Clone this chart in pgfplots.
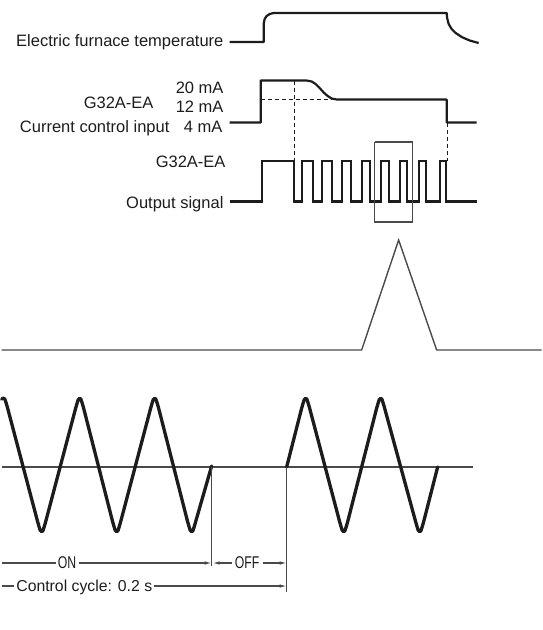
\documentclass[border=0pt]{standalone}
\usepackage{fontspec}
\setmainfont{Liberation Sans}
\usepackage{pgfplots}
\pgfplotsset{compat=1.18}
\usetikzlibrary{arrows.meta}
\definecolor{ink}{HTML}{1C1C1C}
\definecolor{gline}{HTML}{4A4A4A}
\newcommand{\lbl}{\fontsize{16.5}{19.8}\selectfont}
\newcommand{\dimfont}{\fontsize{17}{20}\selectfont}
\tikzset{lab/.style={font=\lbl, text=ink, inner sep=0pt}}
\begin{document}
\begin{tikzpicture}
\begin{axis}[
  width=540pt, height=630pt, scale only axis,
  xmin=0, xmax=540, ymin=0, ymax=630, y dir=reverse,
  hide axis, clip=false,
]
% frame of the page
\addplot[draw=none] coordinates {(0,0) (540,630)};

% electric furnace temperature
\addplot[ink, line width=2.2pt, line join=round] coordinates {
  (228,42) (262,42) (262,24) (263,19) (265,16) (268,14) (272,13)
  (445,13) (445.5,18) (447,24) (450,29) (454,33) (460,37) (468,40.5) (477,43)};

% current control input
\addplot[ink, line width=2.2pt, line join=round] coordinates {
  (228,122.5) (259,122.5) (259,80.5) (305,80.5) (310,81.5) (314,84) (318,88)
  (322,92.5) (326,96) (330,98.5) (335,99.5) (445,99.5) (445,122.5) (475,122.5)};

% dashed guides
\addplot[ink, line width=1pt, dash pattern=on 4pt off 3pt] coordinates {(259,99.5) (330,99.5)};
\addplot[ink, line width=1pt, dash pattern=on 4pt off 3pt] coordinates {(293,80.5) (293,161)};
\addplot[ink, line width=1pt, dash pattern=on 4pt off 3pt] coordinates {(446,122.5) (446,161)};

% output signal
\addplot[ink, line width=2.2pt, line join=miter] coordinates {
  (228,201.5) (260,201.5) (260,161) (292,161) (292,201.5)
  (300,201.5) (300,161) (311,161) (311,201.5)
  (320,201.5) (320,161) (330,161) (330,201.5)
  (340,201.5) (340,161) (349,161) (349,201.5)
  (360,201.5) (360,161) (368,161) (368,201.5)
  (379,201.5) (379,161) (387,161) (387,201.5)
  (398,201.5) (398,161) (405,161) (405,201.5)
  (417,201.5) (417,161) (424,161) (424,201.5)
  (438,201.5) (438,161) (444,161) (444,201.5) (475,201.5)};

% zoom box
\addplot[gline, line width=1.1pt] coordinates {(373,142) (411,142) (411,222) (373,222) (373,142)};

% single pulse
\addplot[gline, line width=1.4pt, line join=miter] coordinates {
  (0,350) (360,350) (397,240) (435,350) (540,350)};

% zero line of the wave
\addplot[gline, line width=1.1pt] coordinates {(0,467) (471,467)};

% wave, on part
\addplot[ink, line width=3.3pt, line join=round, line cap=round] coordinates {
  (0,399.2) (1,398.4) (2,398.2) (3.4,399.6) (4.8,404) (6.2,409)
  (35.8,521) (37.2,526) (38.6,530.4) (40,531.8) (41.4,530.4) (42.8,526) (44.2,521)
  (73.8,409) (75.2,404) (76.6,399.6) (78,398.2) (79.4,399.6) (80.8,404) (82.2,409)
  (110.8,521) (112.2,526) (113.6,530.4) (115,531.8) (116.4,530.4) (117.8,526) (119.2,521)
  (148.8,409) (150.2,404) (151.6,399.6) (153,398.2) (154.4,399.6) (155.8,404) (157.2,409)
  (185.8,521) (187.2,526) (188.6,530.4) (190,531.8) (191.4,530.4) (192.8,526) (194.2,521)
  (210,466)};
% wave, next cycle
\addplot[ink, line width=3.3pt, line join=round, line cap=round] coordinates {
  (285,467)
  (299.8,409) (301.2,404) (302.6,399.6) (304,398.2) (305.4,399.6) (306.8,404) (308.2,409)
  (337.8,521) (339.2,526) (340.6,530.4) (342,531.8) (343.4,530.4) (344.8,526) (346.2,521)
  (374.8,409) (376.2,404) (377.6,399.6) (379,398.2) (380.4,399.6) (381.8,404) (383.2,409)
  (413.8,521) (415.2,526) (416.6,530.4) (418,531.8) (419.4,530.4) (420.8,526) (422.2,521)
  (436,467)};

% cycle markers
\addplot[gline, line width=1.1pt] coordinates {(210,467) (210,566)};
\addplot[gline, line width=1.1pt] coordinates {(285,467) (285,592)};

% ON / OFF / cycle dimension lines
\addplot[gline, line width=1.1pt] coordinates {(0,563) (54,563)};
\addplot[gline, line width=1.1pt, -{Latex[length=7pt,width=3.5pt]}] coordinates {(77,563) (210,563)};
\addplot[gline, line width=1.1pt, {Latex[length=7pt,width=3.5pt]}-] coordinates {(211,563) (230,563)};
\addplot[gline, line width=1.1pt, -{Latex[length=7pt,width=3.5pt]}] coordinates {(261,563) (285,563)};
\addplot[gline, line width=1.1pt] coordinates {(0,586) (12,586)};
\addplot[gline, line width=1.1pt, -{Latex[length=7pt,width=3.5pt]}] coordinates {(152,586) (285,586)};

% labels
\node[lab, anchor=base east] at (axis cs:222,46) {Electric furnace temperature};
\node[lab, anchor=base east] at (axis cs:222,93) {20 mA};
\node[lab, anchor=base east] at (axis cs:152,108) {G32A-EA};
\node[lab, anchor=base east] at (axis cs:222,112) {12 mA};
\node[lab, anchor=base east] at (axis cs:168,132.5) {Current control input};
\node[lab, anchor=base east] at (axis cs:221,132.5) {4 mA};
\node[lab, anchor=base east] at (axis cs:224,167) {G32A-EA};
\node[lab, anchor=base east] at (axis cs:222,208) {Output signal};
\node[lab, anchor=base west] at (axis cs:14.5,591) {\fontsize{15.8}{19}\selectfont Control cycle: 0.2 s};
\node[lab, text=ink] at (axis cs:65.5,563) {\dimfont\scalebox{0.72}[1]{ON}};
\node[lab, text=ink] at (axis cs:245.5,563) {\dimfont\scalebox{0.72}[1]{OFF}};
\end{axis}
\end{tikzpicture}
\end{document}
